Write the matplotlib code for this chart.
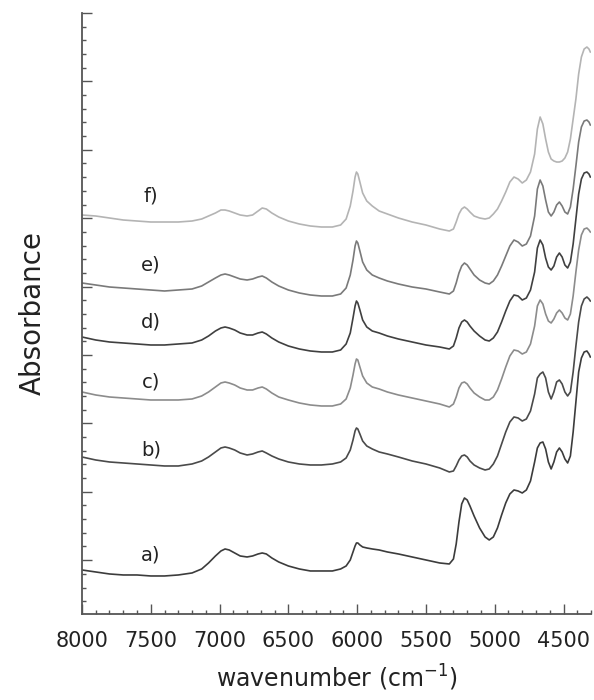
import numpy as np
import matplotlib
matplotlib.use("Agg")
import matplotlib.pyplot as plt
from matplotlib.ticker import FixedLocator

# wavenumber points (cm-1) shared by all six spectra
wavenumber = [8000, 7900, 7800, 7700, 7600, 7500, 7400, 7300, 7200, 7130,
              7080, 7030, 6990, 6960, 6930, 6890, 6850, 6800, 6760, 6720,
              6690, 6660, 6620, 6570, 6500, 6420, 6340, 6260, 6180, 6120,
              6080, 6050, 6030, 6015, 6005, 5995, 5980, 5960, 5930, 5890,
              5840, 5780, 5700, 5600, 5500, 5400, 5330, 5300, 5280, 5260,
              5240, 5220, 5200, 5180, 5150, 5110, 5070, 5040, 5010, 4980,
              4950, 4920, 4890, 4860, 4830, 4800, 4770, 4740, 4710, 4690,
              4670, 4650, 4630, 4610, 4590, 4570, 4550, 4530, 4510, 4490,
              4470, 4450, 4430, 4410, 4390, 4370, 4350, 4330, 4315, 4305]

# absorbance (arbitrary units, curves already offset as in the figure)
spec_a = [44, 42, 40, 39, 39, 38, 38, 39, 41, 45,
          51, 58, 63, 65, 64, 61, 58, 57, 58, 60,
          61, 60, 56, 52, 48, 45, 43, 43, 43, 45,
          48, 54, 62, 68, 71, 71, 69, 67, 66, 65,
          64, 62, 60, 57, 54, 51, 50, 55, 70, 92,
          110, 116, 114, 108, 98, 86, 77, 74, 77, 86,
          99, 111, 120, 124, 123, 121, 124, 133, 152, 166,
          171, 172, 165, 152, 145, 152, 162, 166, 162, 155,
          151, 158, 182, 212, 242, 256, 262, 263, 260, 257]
spec_b = [157, 154, 152, 151, 150, 149, 148, 148, 150, 153,
          157, 162, 166, 167, 166, 164, 161, 159, 160, 162,
          163, 161, 158, 155, 152, 150, 149, 149, 150, 152,
          156, 164, 174, 183, 186, 185, 180, 173, 168, 165,
          162, 160, 157, 153, 150, 146, 142, 143, 148, 154,
          158, 159, 157, 153, 149, 146, 144, 145, 150, 158,
          170, 182, 192, 197, 196, 193, 195, 203, 220, 236,
          240, 242, 236, 222, 215, 222, 232, 234, 230, 222,
          218, 222, 242, 268, 292, 308, 315, 317, 315, 313]
spec_c = [222, 219, 217, 216, 215, 214, 214, 214, 215, 218,
          222, 227, 231, 232, 231, 229, 226, 224, 224, 226,
          227, 225, 221, 217, 214, 211, 209, 208, 208, 210,
          215, 226, 239, 250, 255, 254, 247, 238, 231, 227,
          225, 222, 219, 216, 213, 210, 207, 210, 217, 226,
          231, 232, 230, 226, 221, 217, 214, 214, 217, 224,
          235, 247, 258, 264, 263, 260, 262, 270, 288, 308,
          314, 310, 300, 293, 291, 295, 301, 304, 301, 296,
          294, 300, 318, 342, 364, 379, 385, 386, 384, 382]
spec_d = [277, 274, 272, 271, 270, 269, 269, 270, 271, 274,
          278, 283, 286, 287, 286, 284, 281, 279, 279, 281,
          282, 280, 276, 272, 268, 265, 263, 262, 262, 264,
          270, 281, 296, 308, 313, 311, 304, 294, 287, 283,
          281, 278, 275, 272, 269, 267, 265, 268, 276, 286,
          292, 294, 292, 288, 283, 278, 274, 273, 276, 282,
          292, 303, 313, 319, 318, 314, 316, 324, 342, 366,
          374, 369, 356, 347, 344, 348, 357, 361, 357, 349,
          346, 352, 370, 395, 420, 435, 441, 442, 440, 437]
spec_e = [331, 329, 327, 326, 325, 324, 323, 324, 325, 328,
          332, 336, 339, 340, 339, 337, 335, 334, 335, 337,
          338, 336, 332, 328, 324, 321, 319, 318, 318, 320,
          326, 339, 354, 368, 373, 371, 363, 352, 344, 339,
          336, 333, 330, 327, 325, 322, 320, 323, 331, 341,
          348, 351, 349, 345, 339, 334, 331, 330, 333, 339,
          348, 358, 368, 374, 372, 368, 370, 378, 398, 425,
          434, 428, 414, 402, 398, 402, 409, 412, 408, 402,
          400, 407, 425, 448, 472, 487, 493, 494, 492, 489]
spec_f = [399, 398, 396, 394, 393, 392, 392, 392, 393, 395,
          398, 401, 404, 404, 403, 401, 399, 398, 399, 403,
          406, 405, 401, 397, 393, 390, 388, 387, 387, 389,
          395, 408, 423, 437, 442, 440, 432, 421, 413, 408,
          403, 400, 396, 392, 389, 385, 383, 385, 392, 400,
          405, 407, 405, 402, 398, 396, 395, 396, 400, 405,
          413, 422, 432, 437, 435, 431, 434, 442, 460, 485,
          497, 490, 475, 462, 455, 453, 452, 452, 453, 456,
          462, 475, 495, 515, 540, 557, 565, 567, 565, 562]

labels = ["a)", "b)", "c)", "d)", "e)", "f)"]
label_y = [59, 164, 232, 292, 349, 418]
colors = ["#3c3c3c", "#4a4a4a", "#8c8c8c", "#404040", "#7a7a7a", "#b4b4b4"]

fig = plt.figure(figsize=(5.94, 7.0), dpi=100)
ax = fig.add_axes([0.138, 0.1229, 0.857, 0.8585])

spectra = [spec_a, spec_b, spec_c, spec_d, spec_e, spec_f]
for spec, col in zip(spectra, colors):
    ax.plot(wavenumber, spec, color=col, lw=1.2)

for lab, y in zip(labels, label_y):
    ax.text(7500, y, lab, fontsize=14, color="#222222", ha="center", va="center")

ax.set_xlim(8000, 4300)
ax.set_ylim(0, 601)

ax.set_xticks(np.arange(8000, 4499, -500))
ax.xaxis.set_minor_locator(FixedLocator(np.arange(8000, 4299, -100)))
ax.yaxis.set_major_locator(FixedLocator(601 - 68.4 * np.arange(9)))
ax.yaxis.set_minor_locator(FixedLocator(601 - 13.68 * np.arange(44)))
ax.set_yticklabels([])

for side in ["top", "right"]:
    ax.spines[side].set_visible(False)
for side in ["left", "bottom"]:
    ax.spines[side].set_color("#555555")
    ax.spines[side].set_linewidth(1.3)

ax.tick_params(which="major", direction="in", length=7, width=1, color="#555555")
ax.tick_params(which="minor", direction="in", length=3, width=1, color="#555555")
ax.tick_params(axis="x", labelsize=15, pad=12, labelcolor="#222222")

ax.set_xlabel("wavenumber (cm$^{\\mathregular{-1}}$)", fontsize=17, color="#222222", labelpad=9)
ax.set_ylabel("Absorbance", fontsize=20, color="#222222", labelpad=22)

fig.savefig("out.png", dpi=100)
